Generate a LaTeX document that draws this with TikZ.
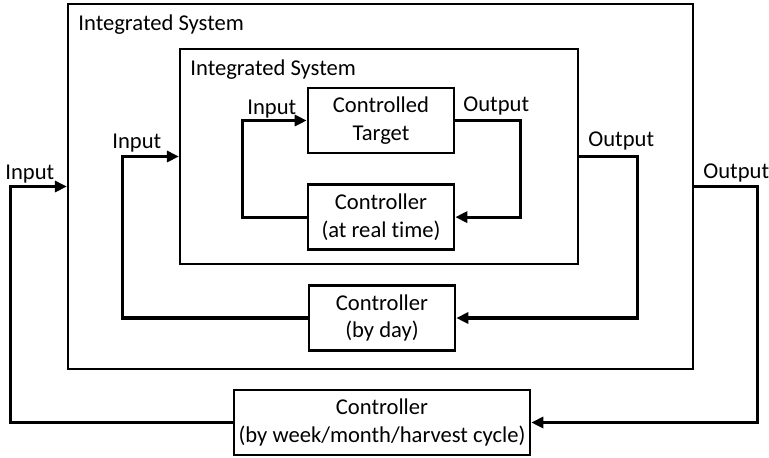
\documentclass[tikz,border=0pt]{standalone}
\usepackage{fontspec}
\setmainfont{Carlito}[Ligatures=NoCommon]
\usepackage{tikz}
\usetikzlibrary{positioning,arrows.meta}

\tikzset{
  sysframe/.style={draw, line width=1.1pt, inner sep=0pt},
  ctrlbox/.style={draw, line width=1.3pt, align=center, minimum width=73pt, minimum height=32.5pt, inner sep=0pt},
  feed/.style={line width=1.6pt, -{Triangle[length=6pt,width=5.5pt]}},
  tag/.style={anchor=base west, inner sep=0pt}
}

\begin{document}
\begin{tikzpicture}[x=0.5pt, y=-0.5pt, font=\fontsize{11.3}{13.7}\selectfont]
        \useasboundingbox (0,0) rectangle (769,457);
        \node[sysframe, minimum width=312.5pt, minimum height=182.5pt] (outersys) at (380.5,186.5) {};
        \node[sysframe, minimum width=199pt, minimum height=107.5pt] (innersys) at (379,156.5) {};
        \node[tag] (outerlbl) at (78,30) {Integrated System};
        \node[tag] (innerlbl) at (190,75) {Integrated System};
        \node[ctrlbox] (target) at (381,120.5) {Controlled\\Target};
        \node[ctrlbox, below = 14.5pt of target] (rtctrl) {Controller\\(at real time)};
        \node[ctrlbox] (dayctrl) at (382,318) {Controller\\(by day)};
        \node[ctrlbox, minimum width=148pt] (cyclectrl) at (382,422.5) {Controller\\(by week/month/harvest cycle)};
        \node[tag] (in1) at (247,114) {Input};
        \node[tag] (in2) at (112,148) {Input};
        \node[tag] (in3) at (5,179) {Input};
        \node[tag] (out1) at (463,111.5) {Output};
        \node[tag] (out2) at (588,146) {Output};
        \node[tag] (out3) at (703,178) {Output};
        \draw[feed] (rtctrl.west) -- ++(-64,0) |- (target.west);
        \draw[feed] (target.east) -- ++(65,0) |- (rtctrl.east);
        \draw[feed] (dayctrl.west) -- ++(-185,0) |- (innersys.west);
        \draw[feed] (innersys.east) -- ++(58,0) |- (dayctrl.east);
        \draw[feed] (cyclectrl.west) -- ++(-222,0) |- (outersys.west);
        \draw[feed] (outersys.east) -- ++(63,0) |- (cyclectrl.east);
    \end{tikzpicture}
\end{document}
